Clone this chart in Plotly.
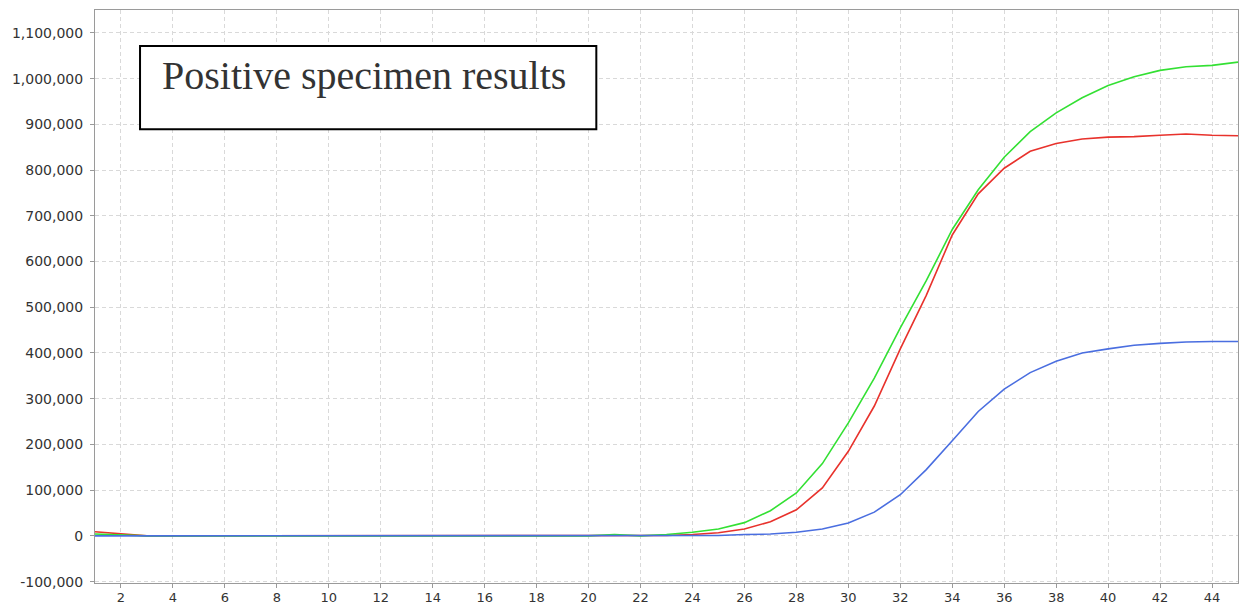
"""
Curvas de amplificación - resultado positivo
"""
import plotly.graph_objects as go

cycles = list(range(1, 46))

red_values = [
    9000, 4000, 0, 0, 0, 0, 0, 0, 0, 0,
    0, 0, 0, 0, 0, 0, 0, 0, 0, 0,
    0, 0, 1000, 3000, 7000, 15000, 31000, 57000, 105000, 185000,
    284000, 409000, 526000, 658000, 748000, 804000, 841000, 858000, 868000, 872000,
    873000, 876000, 879000, 876000, 875000,
]

green_values = [
    4000, 2000, 0, 0, 0, 0, 0, 0, 0, 0,
    0, 0, 0, 0, 0, 0, 0, 0, 0, 0,
    3000, 0, 3000, 8000, 15000, 29000, 55000, 94000, 158000, 247000,
    345000, 455000, 558000, 670000, 757000, 828000, 884000, 925000, 958000, 985000,
    1004000, 1018000, 1026000, 1029000, 1036000,
]

blue_values = [
    0, 0, 0, 0, 0, 0, 0, 0, 0, 0,
    0, 0, 0, 0, 0, 0, 0, 0, 0, 0,
    0, 0, 0, 0, 1000, 3000, 4000, 8000, 15000, 28000,
    52000, 90000, 145000, 208000, 272000, 321000, 357000, 382000, 400000, 409000,
    417000, 421000, 424000, 425000, 425000,
]

y_tickvals = [-100000, 0, 100000, 200000, 300000, 400000, 500000,
              600000, 700000, 800000, 900000, 1000000, 1100000]
y_ticktext = ["-100,000", "0", "100,000", "200,000", "300,000", "400,000", "500,000",
              "600,000", "700,000", "800,000", "900,000", "1,000,000", "1,100,000"]

x_tickvals = list(range(2, 45, 2))

series = [
    ("Rojo", red_values, "#e8322c"),
    ("Verde", green_values, "#33e033"),
    ("Azul", blue_values, "#4a6ee0"),
]

fig = go.Figure()

for name, values, color in series:
    fig.add_trace(go.Scatter(
        x=cycles,
        y=values,
        name=name,
        mode="lines",
        line=dict(color=color, width=1.6),
    ))

# Recuadro con el texto
fig.add_shape(
    type="rect",
    xref="paper", yref="paper",
    x0=0.0394, x1=0.4386, y0=0.792, y1=0.937,
    line=dict(color="black", width=2),
    fillcolor="white",
    layer="above",
)
fig.add_annotation(
    xref="paper", yref="paper",
    x=0.235, y=0.885,
    xanchor="center", yanchor="middle",
    text="Positive specimen results",
    showarrow=False,
    font=dict(family="Liberation Serif", size=40, color="#333333"),
)

axis_style = dict(
    showline=True,
    linecolor="#9a9a9a",
    linewidth=1,
    mirror=True,
    ticks="outside",
    ticklen=4,
    tickcolor="#9a9a9a",
    showgrid=True,
    gridcolor="#d9d9d9",
    griddash="4px,3px",
    gridwidth=1,
    zeroline=False,
    automargin=False,
)

fig.update_xaxes(
    range=[1, 45],
    tickmode="array",
    tickvals=x_tickvals,
    ticklabelstandoff=-2,
    tickfont=dict(family="DejaVu Sans", size=13, color="#333333"),
    **axis_style,
)
fig.update_yaxes(
    range=[-103000, 1150000],
    tickmode="array",
    tickvals=y_tickvals,
    ticktext=y_ticktext,
    ticklabelstandoff=4,
    tickfont=dict(family="DejaVu Sans", size=14, color="#333333"),
    **axis_style,
)

# el body de la página deja 8px de margen
fig.update_layout(
    width=1240,
    height=596,
    margin=dict(l=87, r=10, t=2, b=21),
    showlegend=False,
    plot_bgcolor="white",
    paper_bgcolor="white",
)

fig.write_html("out.html")
